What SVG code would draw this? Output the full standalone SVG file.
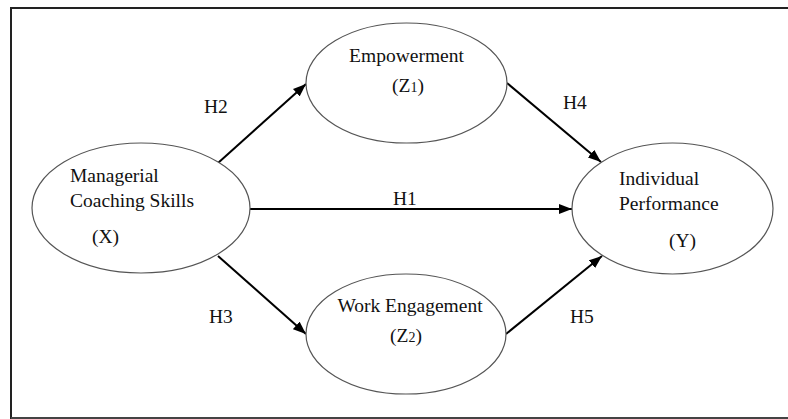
<svg xmlns="http://www.w3.org/2000/svg" width="788" height="419" viewBox="0 0 788 419">
<defs>
<marker id="ah" markerUnits="userSpaceOnUse" markerWidth="14" markerHeight="10" refX="13" refY="5" orient="auto">
<path d="M0,0 L13,5 L0,10 z" fill="#000"/>
</marker>
<style>
.n{fill:#fff;stroke:#555;stroke-width:1.2}
.t{font-family:"Liberation Serif","Times New Roman",serif;font-size:19.5px;fill:#111}
.c{text-anchor:middle}
.e{stroke:#000;stroke-width:2;fill:none;marker-end:url(#ah)}
.s{font-size:14px}
</style>
</defs>
<rect width="788" height="419" fill="#fff"/>
<path d="M11,419 V8 H788" fill="none" stroke="#222" stroke-width="2"/>
<path d="M11,418 H788" fill="none" stroke="#444" stroke-width="2"/>
<g id="edges">
<line class="e" x1="218" y1="163" x2="306" y2="84"/>
<line class="e" x1="507" y1="83" x2="601" y2="162"/>
<line class="e" x1="250" y1="209" x2="572" y2="209"/>
<line class="e" x1="218" y1="256" x2="306" y2="334"/>
<line class="e" x1="506" y1="334" x2="602" y2="256"/>
<text class="t" x="204" y="113">H2</text>
<text class="t" x="563" y="109">H4</text>
<text class="t" x="393" y="205">H1</text>
<text class="t" x="209" y="323">H3</text>
<text class="t" x="570" y="323">H5</text>
</g>
<g id="x">
<ellipse class="n" cx="141" cy="208" rx="109" ry="65"/>
<text class="t" x="70" y="182">Managerial</text>
<text class="t" x="70" y="207">Coaching Skills</text>
<text class="t" x="92" y="243">(X)</text>
</g>
<g id="z1">
<ellipse class="n" cx="406.5" cy="83" rx="100.5" ry="60"/>
<text class="t c" x="406.5" y="62">Empowerment</text>
<text class="t c" x="408" y="92">(Z<tspan class="s">1</tspan>)</text>
</g>
<g id="z2">
<ellipse class="n" cx="406" cy="334" rx="100" ry="60"/>
<text class="t c" x="410" y="312">Work Engagement</text>
<text class="t c" x="406" y="342">(Z<tspan class="s">2</tspan>)</text>
</g>
<g id="y">
<ellipse class="n" cx="672.5" cy="208.5" rx="100.5" ry="65.5"/>
<text class="t" x="619" y="185">Individual</text>
<text class="t" x="619" y="210">Performance</text>
<text class="t" x="669" y="247">(Y)</text>
</g>
</svg>
